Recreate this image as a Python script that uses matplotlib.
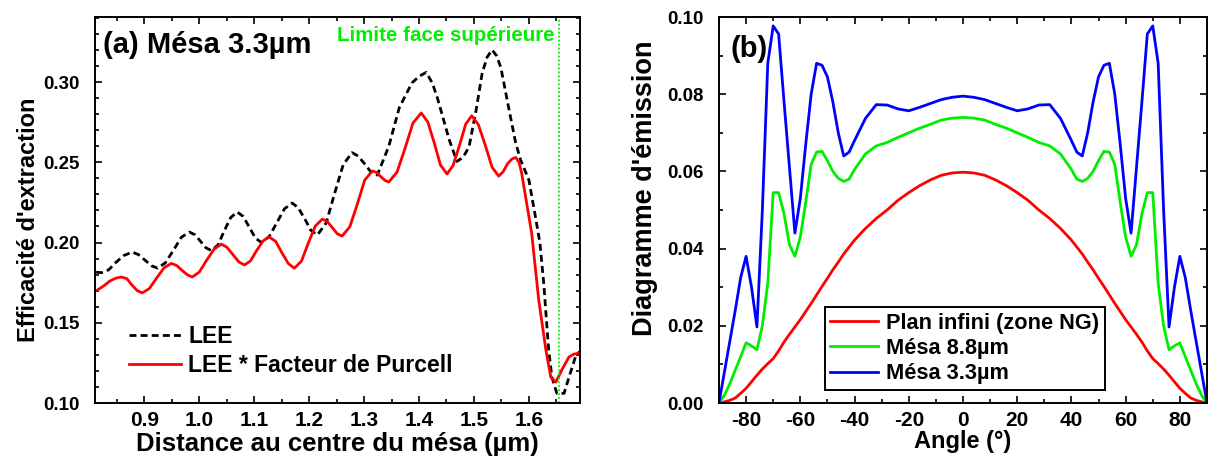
import matplotlib
matplotlib.use("Agg")
import matplotlib.pyplot as plt
from matplotlib.ticker import MultipleLocator

plt.rcParams['font.family'] = ['Liberation Sans', 'DejaVu Sans']
plt.rcParams['font.weight'] = 'bold'
plt.rcParams['axes.labelweight'] = 'bold'

# ---------------- Panel (a) data ----------------
lee_x = [0.812, 0.822, 0.835, 0.848, 0.863, 0.878, 0.889, 0.901, 0.913, 0.924,
         0.938, 0.953, 0.967, 0.982, 0.992, 1.002, 1.012, 1.022, 1.034, 1.045,
         1.057, 1.069, 1.080, 1.091, 1.102, 1.113, 1.127, 1.141, 1.155, 1.169,
         1.180, 1.192, 1.203, 1.215, 1.231, 1.246, 1.262, 1.278, 1.289, 1.301,
         1.312, 1.324, 1.345, 1.364, 1.387, 1.400, 1.413, 1.424, 1.433, 1.455,
         1.469, 1.480, 1.491, 1.504, 1.515, 1.524, 1.533, 1.541, 1.549, 1.564,
         1.576, 1.585, 1.600, 1.613, 1.620, 1.627, 1.636, 1.642, 1.651, 1.664,
         1.673, 1.685, 1.692]
lee_y = [0.1815, 0.1812, 0.1830, 0.1876, 0.1920, 0.1940, 0.1925, 0.1890, 0.1855, 0.1840,
         0.1873, 0.1952, 0.2032, 0.2065, 0.2048, 0.2008, 0.1967, 0.1950, 0.1985, 0.2070,
         0.2155, 0.2190, 0.2162, 0.2095, 0.2028, 0.2000, 0.2036, 0.2123, 0.2210, 0.2246,
         0.2217, 0.2147, 0.2076, 0.2047, 0.2122, 0.2303, 0.2485, 0.2560, 0.2539, 0.2490,
         0.2441, 0.2420, 0.2600, 0.2840, 0.2994, 0.3035, 0.3060, 0.2995, 0.2906, 0.2640,
         0.2505, 0.2530, 0.2595, 0.2826, 0.3056, 0.3155, 0.3200, 0.3165, 0.3090, 0.2826,
         0.2620, 0.2514, 0.2390, 0.2140, 0.2000, 0.1750, 0.1330, 0.1160, 0.1060, 0.1060,
         0.1160, 0.1290, 0.1320]

purcell_x = [0.815, 0.826, 0.837, 0.848, 0.858, 0.868, 0.877, 0.887, 0.896, 0.909,
             0.922, 0.936, 0.949, 0.959, 0.968, 0.978, 0.987, 1.000, 1.013, 1.027,
             1.040, 1.050, 1.061, 1.072, 1.082, 1.093, 1.104, 1.116, 1.127, 1.139,
             1.150, 1.162, 1.173, 1.186, 1.198, 1.211, 1.224, 1.233, 1.242, 1.251,
             1.260, 1.274, 1.288, 1.301, 1.315, 1.323, 1.330, 1.338, 1.345, 1.360,
             1.375, 1.389, 1.404, 1.416, 1.428, 1.439, 1.451, 1.462, 1.474, 1.485,
             1.496, 1.508, 1.521, 1.533, 1.545, 1.553, 1.561, 1.569, 1.576, 1.582,
             1.587, 1.595, 1.605, 1.618, 1.631, 1.640, 1.649, 1.660, 1.673, 1.682,
             1.692]
purcell_y = [0.1705, 0.1730, 0.1760, 0.1778, 0.1785, 0.1775, 0.1736, 0.1700, 0.1686, 0.1713,
             0.1778, 0.1843, 0.1870, 0.1856, 0.1828, 0.1799, 0.1785, 0.1816, 0.1888, 0.1959,
             0.1990, 0.1971, 0.1925, 0.1879, 0.1860, 0.1885, 0.1948, 0.2010, 0.2035, 0.2007,
             0.1938, 0.1869, 0.1840, 0.1884, 0.1993, 0.2102, 0.2146, 0.2131, 0.2093, 0.2055,
             0.2040, 0.2098, 0.2243, 0.2388, 0.2446, 0.2436, 0.2412, 0.2387, 0.2377, 0.2439,
             0.2592, 0.2745, 0.2807, 0.2751, 0.2617, 0.2483, 0.2427, 0.2480, 0.2609, 0.2738,
             0.2790, 0.2735, 0.2602, 0.2469, 0.2414, 0.2440, 0.2490, 0.2520, 0.2530, 0.2500,
             0.2430, 0.2265, 0.2060, 0.1640, 0.1330, 0.1160, 0.1130, 0.1206, 0.1287, 0.1305,
             0.1310]

limit_x = 1.655

# ---------------- Panel (b) data ----------------
angles = [-90, -88, -86, -84, -82, -80, -78, -76, -74, -72, -70, -68, -66, -64, -62,
          -60, -58, -56, -54, -52, -50, -48, -46, -44, -42, -40, -36, -32, -28, -24,
          -20, -16, -12, -8, -4, 0, 4, 8, 12, 16, 20, 24, 28, 32, 36, 40, 42, 44, 46,
          48, 50, 52, 54, 56, 58, 60, 62, 64, 66, 68, 70, 72, 74, 76, 78, 80, 82, 84,
          86, 88, 90]
plan_infini = [0.0000, 0.0003, 0.0007, 0.0013, 0.0025, 0.0038, 0.0055, 0.0072, 0.0088, 0.0102,
               0.0115, 0.0135, 0.0158, 0.0178, 0.0197, 0.0216, 0.0237, 0.0258, 0.0280, 0.0302,
               0.0323, 0.0345, 0.0365, 0.0386, 0.0404, 0.0422, 0.0452, 0.0478, 0.0500, 0.0525,
               0.0545, 0.0563, 0.0578, 0.0590, 0.0596, 0.0598,
               0.0596, 0.0590, 0.0578, 0.0563, 0.0545, 0.0525, 0.0500, 0.0478, 0.0452, 0.0422,
               0.0404, 0.0386, 0.0365, 0.0345, 0.0323, 0.0302, 0.0280, 0.0258, 0.0237, 0.0216,
               0.0197, 0.0178, 0.0158, 0.0135, 0.0115, 0.0102, 0.0088, 0.0072, 0.0055, 0.0038,
               0.0025, 0.0013, 0.0007, 0.0003, 0.0000]
mesa_88 = [0.0000, 0.0020, 0.0050, 0.0085, 0.0120, 0.0156, 0.0148, 0.0138, 0.0200, 0.0310,
           0.0545, 0.0545, 0.0490, 0.0410, 0.0380, 0.0430, 0.0520, 0.0618, 0.0650, 0.0652,
           0.0628, 0.0600, 0.0582, 0.0574, 0.0580, 0.0605, 0.0645, 0.0666, 0.0675, 0.0688,
           0.0700, 0.0712, 0.0722, 0.0733, 0.0738, 0.0740,
           0.0738, 0.0733, 0.0722, 0.0712, 0.0700, 0.0688, 0.0675, 0.0666, 0.0645, 0.0605,
           0.0580, 0.0574, 0.0582, 0.0600, 0.0628, 0.0652, 0.0650, 0.0618, 0.0520, 0.0430,
           0.0380, 0.0410, 0.0490, 0.0545, 0.0545, 0.0310, 0.0200, 0.0138, 0.0148, 0.0156,
           0.0120, 0.0085, 0.0050, 0.0020, 0.0000]
mesa_33 = [0.0000, 0.0080, 0.0160, 0.0240, 0.0325, 0.0380, 0.0300, 0.0197, 0.0500, 0.0880,
           0.0977, 0.0956, 0.0780, 0.0610, 0.0440, 0.0530, 0.0670, 0.0800, 0.0880, 0.0875,
           0.0845, 0.0780, 0.0700, 0.0640, 0.0650, 0.0680, 0.0737, 0.0773, 0.0772, 0.0762,
           0.0757, 0.0766, 0.0776, 0.0786, 0.0792, 0.0795,
           0.0792, 0.0786, 0.0776, 0.0766, 0.0757, 0.0762, 0.0772, 0.0773, 0.0737, 0.0680,
           0.0650, 0.0640, 0.0700, 0.0780, 0.0845, 0.0875, 0.0880, 0.0800, 0.0670, 0.0530,
           0.0440, 0.0610, 0.0780, 0.0956, 0.0977, 0.0880, 0.0500, 0.0197, 0.0300, 0.0380,
           0.0325, 0.0240, 0.0160, 0.0080, 0.0000]

RED = '#ff0000'
GREEN = '#00ee00'
BLUE = '#0000ff'

fig = plt.figure(figsize=(12.1, 4.61), dpi=100)
ax1 = fig.add_axes([0.0785, 0.1258, 0.4008, 0.8373])
ax2 = fig.add_axes([0.5942, 0.1258, 0.4033, 0.8373])

def style(ax):
    for s in ax.spines.values():
        s.set_linewidth(1.4)
    ax.tick_params(which='both', direction='in', top=True, right=True, width=1.2)
    ax.tick_params(which='major', length=5)
    ax.tick_params(which='minor', length=3)
    ax.tick_params(axis='x', which='major', pad=6, labelsize=15)
    ax.tick_params(axis='y', which='major', pad=11, labelsize=13.5)

# ---- (a)
ax1.plot(lee_x, lee_y, color='black', lw=2.0, dashes=(2.5, 1.5), label='LEE')
ax1.plot(purcell_x, purcell_y, color=RED, lw=2.0, label='LEE * Facteur de Purcell')
ax1.axvline(limit_x, color=GREEN, lw=1.3, ls=(0, (1, 1.2)))
ax1.set_xlim(0.81, 1.693)
ax1.set_ylim(0.10, 0.3405)
ax1.xaxis.set_major_locator(MultipleLocator(0.1))
ax1.xaxis.set_minor_locator(MultipleLocator(0.05))
ax1.yaxis.set_major_locator(MultipleLocator(0.05))
ax1.yaxis.set_minor_locator(MultipleLocator(0.01))
ax1.set_xticks([0.9, 1.0, 1.1, 1.2, 1.3, 1.4, 1.5, 1.6])
ax1.set_xticklabels(['0.9', '1.0', '1.1', '1.2', '1.3', '1.4', '1.5', '1.6'])
ax1.set_yticks([0.10, 0.15, 0.20, 0.25, 0.30])
ax1.set_yticklabels(['0.10', '0.15', '0.20', '0.25', '0.30'])
style(ax1)
ax1.set_xlabel('Distance au centre du mésa (µm)', fontsize=18.5, labelpad=1)
ax1.set_ylabel("Efficacité d'extraction", fontsize=17)
ax1.yaxis.set_label_coords(-0.114, 0.474)
ax1.text(0.016, 0.927, '(a) Mésa 3.3µm', transform=ax1.transAxes, fontsize=21,
         fontweight='bold', ha='left', va='center')
ax1.text(limit_x - 0.008, 0.953, 'Limite face supérieure',
         transform=ax1.get_xaxis_transform(), color=GREEN, fontsize=14.8,
         fontweight='bold', ha='right', va='center')
leg1 = ax1.legend(loc='lower left', bbox_to_anchor=(0.06, 0.055), frameon=False,
                  fontsize=16.5, handlelength=2.3, handletextpad=0.3,
                  labelspacing=0.25, borderpad=0.2, borderaxespad=0)

# ---- (b)
ax2.plot(angles, plan_infini, color=RED, lw=2.0, label='Plan infini (zone NG)')
ax2.plot(angles, mesa_88, color=GREEN, lw=2.0, label='Mésa 8.8µm')
ax2.plot(angles, mesa_33, color=BLUE, lw=2.0, label='Mésa 3.3µm')
ax2.set_xlim(-90, 90)
ax2.set_ylim(0, 0.1)
ax2.xaxis.set_major_locator(MultipleLocator(20))
ax2.xaxis.set_minor_locator(MultipleLocator(10))
ax2.yaxis.set_major_locator(MultipleLocator(0.02))
ax2.yaxis.set_minor_locator(MultipleLocator(0.01))
ax2.set_xticks([-80, -60, -40, -20, 0, 20, 40, 60, 80])
ax2.set_xticklabels(['-80', '-60', '-40', '-20', '0', '20', '40', '60', '80'])
ax2.set_yticks([0.0, 0.02, 0.04, 0.06, 0.08, 0.10])
ax2.set_yticklabels(['0.00', '0.02', '0.04', '0.06', '0.08', '0.10'])
style(ax2)
ax2.set_xlabel('Angle (°)', fontsize=17, labelpad=0)
ax2.set_ylabel("Diagramme d'émission", fontsize=19.5)
ax2.yaxis.set_label_coords(-0.125, 0.557)
ax2.text(0.024, 0.917, '(b)', transform=ax2.transAxes, fontsize=21,
         fontweight='bold', ha='left', va='center')
leg2 = ax2.legend(loc='lower left', bbox_to_anchor=(0.217, 0.034), frameon=True,
                  fancybox=False, edgecolor='black', framealpha=1, fontsize=15.7,
                  handlelength=2.2, handletextpad=0.35, labelspacing=0.2,
                  borderpad=0.25, borderaxespad=0)
leg2.get_frame().set_linewidth(1.4)

fig.savefig('out.png', dpi=100)
